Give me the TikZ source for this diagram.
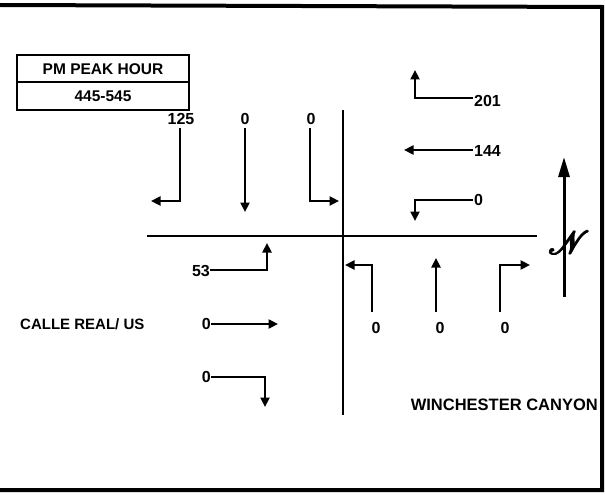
\documentclass[tikz,border=0pt]{standalone}
\usepackage{fontspec}
\setmainfont{Liberation Sans}
\usepackage{mathrsfs}
\usepackage{graphicx}
\usetikzlibrary{arrows.meta}
\newcommand{\myfatN}{%
  \rlap{$\mathscr{N}$}%
  \rlap{\kern0.4pt$\mathscr{N}$}%
  \rlap{\kern0.8pt$\mathscr{N}$}%
  \rlap{\kern1.2pt$\mathscr{N}$}%
  \rlap{\raisebox{0.4pt}{\kern0.2pt$\mathscr{N}$}}%
  \rlap{\raisebox{0.4pt}{\kern1.0pt$\mathscr{N}$}}%
  \rlap{\raisebox{-0.4pt}{\kern0.6pt$\mathscr{N}$}}%
  \kern1.2pt$\mathscr{N}$}
\begin{document}
\begin{tikzpicture}[x=1pt,y=-1pt,
  mv/.style={line width=2.4pt, line join=miter, -{Triangle[length=9.5pt,width=9pt]}},
  street/.style={line width=2.6pt},
  frame/.style={line width=4pt},
  num/.style={font=\bfseries\fontsize{16}{16}\selectfont, inner sep=0pt},
  big/.style={font=\bfseries\fontsize{15.5}{15.5}\selectfont, inner sep=0pt}]
\useasboundingbox (0,0) rectangle (605,495);
% frame
\draw[frame] (0,5) -- (602,7) -- (602,490) -- (0,490);
% title box
\draw[line width=2pt] (17,55) rectangle (189,110);
\draw[line width=1.6pt] (17,82) -- (189,82);
\node[big] (title) at (103,69) {PM PEAK HOUR};
\node[big] (period) at (103,96.5) {445-545};
% streets
\draw[street] (343,110) -- (343,415);
\draw[street] (147,236) -- (537,236);
% southbound approach
\node[num] (sbl) at (181,119) {125};
\node[num] (sbt) at (245,119) {0};
\node[num] (sbr) at (311,119) {0};
\draw[mv] (180,128) -- (180,201) -- (151,201);
\draw[mv] (245,128) -- (245,212);
\draw[mv] (310,128) -- (310,201) -- (339,201);
% westbound approach
\node[num,anchor=west] (wbr) at (474,101) {201};
\node[num,anchor=west] (wbt) at (474,151) {144};
\node[num,anchor=west] (wbl) at (474,200) {0};
\draw[mv] (473,98) -- (415,98) -- (415,70);
\draw[mv] (473,150) -- (404,150);
\draw[mv] (473,200) -- (415,200) -- (415,221);
% eastbound approach
\node[num,anchor=east] (ebl) at (210,271) {53};
\node[num,anchor=east] (ebt) at (211,324) {0};
\node[num,anchor=east] (ebr) at (211,377) {0};
\draw[mv] (210,270) -- (267,270) -- (267,243);
\draw[mv] (211,324) -- (278,324);
\draw[mv] (211,377) -- (265,377) -- (265,407);
% northbound approach
\draw[mv] (372,312) -- (372,265) -- (345,265);
\draw[mv] (436,312) -- (436,258);
\draw[mv] (500,312) -- (500,265) -- (530,265);
\node[num] (nbl) at (376,328) {0};
\node[num] (nbt) at (440,328) {0};
\node[num] (nbr) at (505,328) {0};
% street names
\node[anchor=west,inner sep=0pt,font=\bfseries\fontsize{15}{15}\selectfont] (calle) at (20,324) {CALLE REAL/ US};
\node[anchor=east,inner sep=0pt,font=\bfseries\fontsize{16.5}{16.5}\selectfont] (winch) at (598,405) {WINCHESTER CANYON};
% north arrow
\draw[line width=3pt, -{Triangle[length=20pt,width=11pt]}] (564,297) -- (564,157);
\node[inner sep=0pt] (north) at (569,243) {\scalebox{1.3}{\fontsize{24}{24}\selectfont\myfatN}};
\end{tikzpicture}
\end{document}
